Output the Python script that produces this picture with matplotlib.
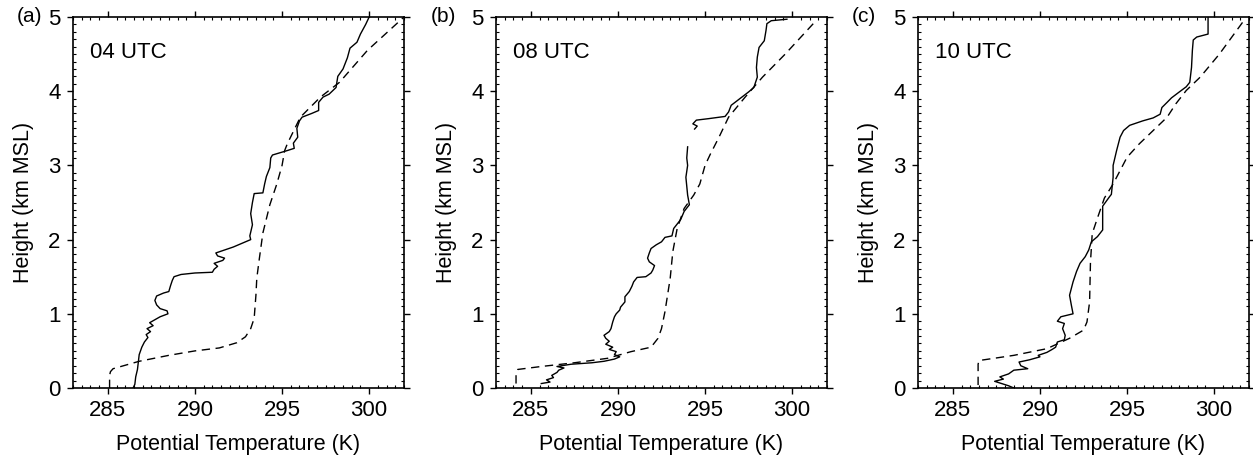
import numpy as np
import matplotlib.pyplot as plt
from matplotlib.ticker import MultipleLocator

plt.rcParams['font.family'] = ['Liberation Sans', 'DejaVu Sans']

# Observed soundings (solid), height km / potential temperature K
z_a_obs = [0.0, 0.05, 0.15, 0.25, 0.35, 0.45, 0.55, 0.62, 0.68, 0.72, 0.76, 0.80, 0.84, 0.88, 0.92, 0.96,
           1.0, 1.04, 1.07, 1.12, 1.18, 1.24, 1.28, 1.30, 1.38, 1.45, 1.50, 1.53, 1.55, 1.56, 1.60, 1.64,
           1.68, 1.72, 1.75, 1.78, 1.82, 1.86, 1.90, 1.94, 1.98, 2.0, 2.05, 2.2, 2.35, 2.5, 2.62, 2.63,
           2.75, 2.85, 2.97, 3.1, 3.14, 3.2, 3.23, 3.3, 3.38, 3.5, 3.6, 3.65, 3.70, 3.74, 3.85, 3.92,
           3.96, 4.05, 4.2, 4.3, 4.45, 4.58, 4.66, 4.77, 4.9, 5.0]
th_a_obs = [286.45, 286.55, 286.6, 286.7, 286.75, 286.8, 286.95, 287.1, 287.3, 287.2, 287.45, 287.25, 287.6, 287.4, 287.7, 288.0,
            288.45, 288.4, 288.0, 287.8, 287.7, 287.8, 288.2, 288.5, 288.6, 288.7, 288.8, 289.2, 290.0, 291.0, 291.1, 291.3,
            291.1, 291.6, 291.7, 291.3, 291.2, 291.7, 292.2, 292.6, 293.0, 293.2, 293.15, 293.3, 293.2, 293.3, 293.4, 293.9,
            294.0, 294.1, 294.3, 294.35, 294.45, 295.3, 295.7, 295.65, 295.9, 295.85, 296.0, 296.15, 296.7, 297.1, 297.1, 297.35,
            297.7, 298.1, 298.2, 298.5, 298.75, 298.9, 299.3, 299.5, 299.8, 300.0]

z_b_obs = [0.06, 0.08, 0.11, 0.14, 0.17, 0.21, 0.24, 0.27, 0.29, 0.32, 0.34, 0.36, 0.39, 0.42, 0.45, 0.49,
           0.52, 0.55, 0.59, 0.63, 0.67, 0.71, 0.76, 0.80, 0.89, 0.96, 1.0, 1.05, 1.09, 1.16, 1.23, 1.3,
           1.37, 1.43, 1.49, 1.50, 1.55, 1.59, 1.65, 1.70, 1.75, 1.82, 1.88, 1.93, 1.97, 2.03, 2.05, 2.15,
           2.27, 2.38, 2.47, 2.6, 2.84, 3.0, 3.1, 3.25, np.nan, 3.49, 3.53, 3.56, 3.61, 3.63, 3.66, 3.72,
           3.81, 3.9, 3.99, 4.05, 4.19, 4.32, 4.46, 4.59, 4.68, 4.82, 4.91, 4.95, 4.97]
th_b_obs = [285.6, 286.1, 285.9, 286.3, 286.2, 286.5, 286.6, 286.9, 286.5, 287.3, 288.5, 289.2, 289.8, 290.1, 289.8, 289.9,
            289.5, 289.7, 289.3, 289.5, 289.3, 289.2, 289.5, 289.6, 289.7, 289.8, 289.9, 290.1, 290.15, 290.4, 290.4, 290.65,
            290.8, 290.9, 291.1, 291.6, 291.9, 292.0, 292.1, 291.8, 291.7, 291.8, 291.9, 292.2, 292.5, 292.7, 293.1, 293.2,
            293.6, 293.8, 294.1, 294.0, 293.9, 294.0, 293.95, 294.0, np.nan, 294.4, 294.55, 294.3, 294.5, 295.2, 296.15, 296.35,
            296.5, 297.0, 297.5, 297.8, 298.0, 297.95, 298.0, 298.1, 298.4, 298.5, 298.55, 298.8, 299.7]

z_c_obs = [0.0, 0.03, 0.06, 0.09, 0.12, 0.15, 0.19, 0.24, 0.26, 0.30, 0.35, 0.38, 0.42, 0.44, 0.48, 0.52,
           0.55, 0.62, 0.65, 0.71, 0.80, 0.87, 0.90, 0.96, 1.0, 1.12, 1.25, 1.43, 1.57, 1.68, 1.77, 1.86,
           1.97, 2.04, 2.13, 2.33, 2.45, 2.58, 2.61, 2.84, 3.0, 3.2, 3.38, 3.47, 3.54, 3.60, 3.64, 3.69,
           3.78, 3.85, 3.91, 3.99, 4.06, 4.12, 4.32, 4.55, 4.69, 4.73, 4.77, 4.86, 5.0]
th_c_obs = [288.5, 288.2, 287.8, 287.4, 287.9, 287.7, 288.2, 288.5, 289.3, 288.9, 288.8, 289.4, 290.0, 289.9, 290.4, 290.7,
            290.9, 291.0, 291.4, 291.45, 291.3, 291.4, 291.0, 291.2, 291.9, 291.8, 291.7, 291.9, 292.1, 292.3, 292.6, 292.8,
            292.95, 293.3, 293.6, 293.6, 293.6, 294.0, 294.1, 294.2, 294.2, 294.4, 294.6, 294.8, 295.15, 295.9, 296.5, 296.9,
            297.0, 297.3, 297.55, 298.0, 298.4, 298.6, 298.7, 298.75, 298.8, 299.0, 299.65, 299.65, 299.65]

# Model profiles (dashed)
z_a_mod = [0.0, 0.17, 0.22, 0.26, 0.36, 0.44, 0.50, 0.54, 0.61, 0.69, 0.80, 0.94, 1.25, 1.48, 1.75, 2.09,
           2.47, 2.75, 3.0, 3.2, 3.29, 3.65, 3.92, 4.12, 4.55, 5.0]
th_a_mod = [285.1, 285.1, 285.15, 285.3, 286.8, 288.5, 290.0, 291.4, 292.4, 292.9, 293.2, 293.4, 293.5, 293.55, 293.7, 293.9,
            294.3, 294.7, 295.0, 295.15, 295.3, 296.05, 297.2, 298.3, 299.9, 302.0]

z_b_mod = [0.06, 0.18, 0.25, 0.29, 0.34, 0.40, 0.49, 0.55, 0.67, 0.80, 1.03, 1.48, 1.84, 2.15, 2.42, 2.6,
           2.75, 3.0, 3.15, 3.38, 3.65, 3.92, 4.19, 4.5, 4.92]
th_b_mod = [284.15, 284.15, 284.25, 285.6, 287.5, 289.4, 290.75, 291.9, 292.3, 292.5, 292.7, 293.0, 293.15, 293.4, 293.8, 294.35,
            294.7, 295.0, 295.3, 295.8, 296.35, 297.3, 298.3, 299.6, 301.25]

z_c_mod = [0.04, 0.32, 0.37, 0.44, 0.53, 0.67, 0.78, 0.89, 1.16, 1.70, 1.88, 2.08, 2.29, 2.56, 2.75, 2.93,
           3.11, 3.29, 3.47, 3.65, 3.83, 4.01, 4.19, 4.5, 4.95]
th_c_mod = [286.45, 286.45, 286.5, 288.5, 290.4, 291.7, 292.5, 292.7, 292.85, 292.9, 292.95, 293.0, 293.3, 293.7, 294.2, 294.6,
            295.0, 295.7, 296.5, 297.3, 297.8, 298.4, 299.2, 300.3, 301.7]

panel_tags = ['(a)', '(b)', '(c)']
times = ['04 UTC', '08 UTC', '10 UTC']
obs = [(th_a_obs, z_a_obs), (th_b_obs, z_b_obs), (th_c_obs, z_c_obs)]
mod = [(th_a_mod, z_a_mod), (th_b_mod, z_b_mod), (th_c_mod, z_c_mod)]

fig = plt.figure(figsize=(12.53, 4.55), dpi=100)
lefts = [73 / 1253, 496 / 1253, 918 / 1253]
tag_x = [-0.13, -0.16, -0.163]
W, H = 331 / 1253, 371 / 455
B = 67 / 455

for i in range(3):
    ax = fig.add_axes([lefts[i], B, W, H])
    ax.plot(mod[i][0], mod[i][1], color='black', lw=1.0, ls=(0, (6, 4)))
    ax.plot(obs[i][0], obs[i][1], color='black', lw=1.0)
    ax.set_xlim(283, 302)
    ax.set_ylim(0, 5)
    ax.xaxis.set_major_locator(MultipleLocator(5))
    ax.xaxis.set_minor_locator(MultipleLocator(0.5))
    ax.yaxis.set_major_locator(MultipleLocator(1))
    ax.yaxis.set_minor_locator(MultipleLocator(0.1))
    ax.tick_params(which='major', direction='out', length=4, width=1,
                   top=True, right=True, labelsize=16, pad=5)
    ax.tick_params(which='minor', direction='in', length=2, width=0.8,
                   top=True, right=True)
    for s in ax.spines.values():
        s.set_linewidth(1.2)
    ax.set_xlabel('Potential Temperature (K)', fontsize=15.5, labelpad=9)
    ax.set_ylabel('Height (km MSL)', fontsize=15.5, labelpad=10)
    ax.text(0.052, 0.905, times[i], transform=ax.transAxes, fontsize=16,
            ha='left', va='center')
    ax.text(tag_x[i], 1.0, panel_tags[i], transform=ax.transAxes, fontsize=15,
            ha='center', va='center')

fig.savefig('out.png', dpi=100)
